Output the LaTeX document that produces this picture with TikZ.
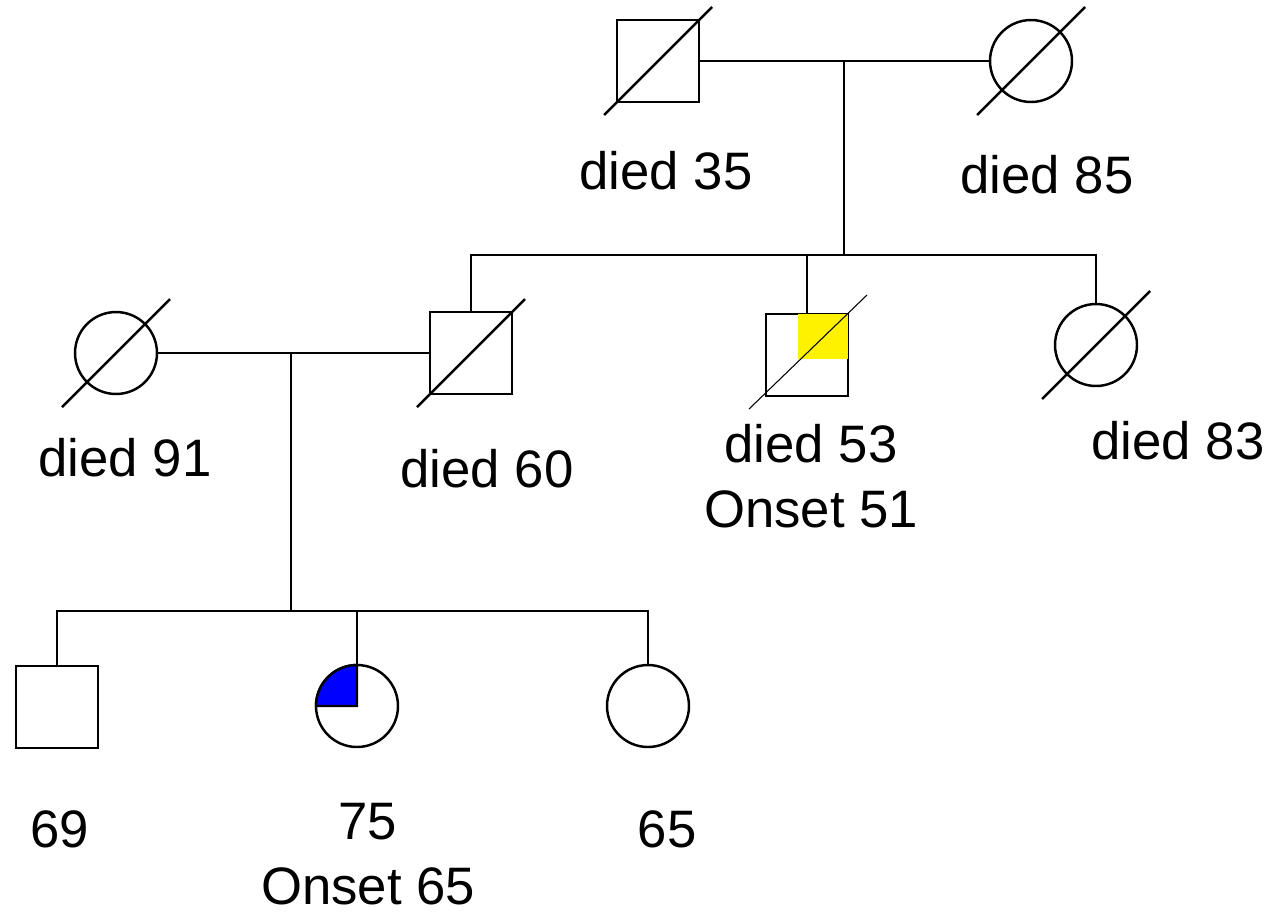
\documentclass[tikz,border=0pt]{standalone}
\usepackage{fontspec}
\setmainfont{Liberation Sans}
\usetikzlibrary{calc}

\tikzset{
    male/.style={draw,rectangle,minimum size=1.64cm,inner sep=0pt,outer sep=0pt},
    female/.style={draw,circle,minimum size=1.64cm,inner sep=0pt,outer sep=0pt},
    thinline/.style={line width=0.6pt},
    age/.style={font=\fontsize{30}{37}\selectfont,align=center,anchor=base,inner sep=0pt}
}

\begin{document}
\begin{tikzpicture}[x=0.02cm,y=-0.02cm,line width=1.4pt]
        \useasboundingbox (0,0) rectangle (1280,914);
        % first generation
        \node[male] (grandpa) at (658,61) {};
        \node[female] (grandma) at (1031,61) {};
        % second generation
        \node[female] (wife) at (116,353) {};
        \node[male] (father) at (471,353) {};
        \node[male,thinline] (uncle) at (807,355) {};
        \node[female] (aunt) at (1096,345) {};
        % third generation
        \node[male] (son) at (57,707) {};
        \node[female] (proband) at (357,706) {};
        \node[female] (sister) at (648,706) {};

        \coordinate (m1) at (844,61);
        \coordinate (s1) at (844,255);
        \coordinate (m2) at (291,353);
        \coordinate (s2) at (291,611);

        \draw (grandpa)--(grandma);
        \draw (m1)--(s1);
        \draw (father.north) |- (s1) -| (aunt.north);
        \draw (uncle.north)--(uncle.north |- s1);

        \draw (wife)--(father);
        \draw (m2)--(s2);
        \draw (son.north) |- (s2) -| (sister.north);
        \draw (proband.north)--(proband.north |- s2);

        % affected
        \fill[yellow] (uncle.north east) rectangle ++(-50,45);
        \draw[fill=blue] (proband.center)--(proband.north) arc[start angle=90,delta angle=90,radius=0.82cm]--cycle;

        % deceased
        \foreach \n in {grandpa,grandma,wife,father,aunt}
            \draw ($(\n)+(-54,54)$)--($(\n)+(54,-54)$);
        \draw[thinline] ($(uncle)+(-58,54)$)--($(uncle)+(60,-60)$);

        \node[age] (a35) at (666,189) {died 35};
        \node[age] (a85) at (1047,193) {died 85};
        \node[age] (a91) at (125,476) {died 91};
        \node[age] (a60) at (487,487) {died 60};
        \node[age] (a53) at (811,527) {died 53\\Onset 51};
        \node[age] (a83) at (1178,459) {died 83};
        \node[age] (a69) at (60,847) {69};
        \node[age] (a75) at (368,904) {75\\Onset 65};
        \node[age] (a65) at (667,847) {65};
    \end{tikzpicture}
\end{document}
